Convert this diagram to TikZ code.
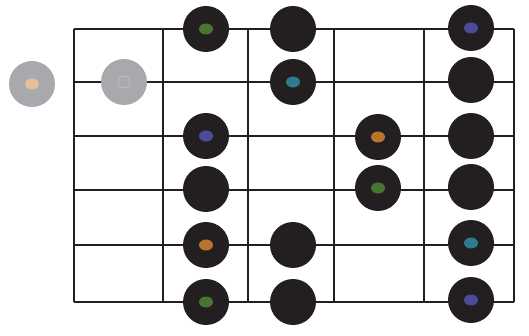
\documentclass[tikz,border=0pt]{standalone}
\usepackage{xcolor}
\usepackage{tikz}
\usetikzlibrary{shapes.geometric}

\definecolor{fretblack}{HTML}{231F20}
\definecolor{ghostgray}{HTML}{A7A9AC}
\definecolor{rootgreen}{HTML}{4A7433}
\definecolor{rootblue}{HTML}{4B4B96}
\definecolor{rootorange}{HTML}{B8762C}
\definecolor{rootteal}{HTML}{2F7A8C}
\definecolor{roottan}{HTML}{E4C197}

\begin{document}
\begin{tikzpicture}[x=1pt,y=-1pt]
  \tikzset{every node/.style={inner sep=0pt,outer sep=0pt}};
  \tikzset{fretline/.style={line width=2.2pt,draw=fretblack}};
  \tikzset{dot/.style={circle,fill=fretblack,minimum size=46pt}};
  \tikzset{ghost/.style={circle,fill=ghostgray,minimum size=46pt}};
  \tikzset{root/.style={ellipse,fill=#1,minimum width=14pt,minimum height=11pt}};
  \useasboundingbox (0,0) rectangle (529,336);
  % strings and frets
  \foreach \y in {29,82,136,190,245,302}
    \draw[fretline] (74,\y) -- (514,\y);
  \foreach \x in {74,163,248,334,424,514}
    \draw[fretline] (\x,29) -- (\x,302);
  % open and muted strings
  \node [ghost] (open) at (32,84) {};
  \node [root=roottan] (openc) at (open) {};
  \node [ghost] (mute) at (124,82) {};
  \node [circle,draw=white!45!ghostgray,line width=0.4pt,minimum size=12pt] (mutec) at (mute) {};
  % first fret column
  \node [dot] (fa1) at (206,29) {};
  \node [root=rootgreen] (fa1c) at (fa1) {};
  \node [dot] (fa3) at (206,136) {};
  \node [root=rootblue] (fa3c) at (fa3) {};
  \node [dot] (fa4) at (206,189) {};
  \node [dot] (fa5) at (206,245) {};
  \node [root=rootorange] (fa5c) at (fa5) {};
  \node [dot] (fa6) at (206,302) {};
  \node [root=rootgreen] (fa6c) at (fa6) {};
  % second fret column
  \node [dot] (fb1) at (293,29) {};
  \node [dot] (fb2) at (293,82) {};
  \node [root=rootteal] (fb2c) at (fb2) {};
  \node [dot] (fb5) at (293,245) {};
  \node [dot] (fb6) at (293,302) {};
  % third fret column
  \node [dot] (fc3) at (378,137) {};
  \node [root=rootorange] (fc3c) at (fc3) {};
  \node [dot] (fc4) at (378,188) {};
  \node [root=rootgreen] (fc4c) at (fc4) {};
  % fourth fret column
  \node [dot] (fd1) at (471,28) {};
  \node [root=rootblue] (fd1c) at (fd1) {};
  \node [dot] (fd2) at (471,80) {};
  \node [dot] (fd3) at (471,136) {};
  \node [dot] (fd4) at (471,187) {};
  \node [dot] (fd5) at (471,243) {};
  \node [root=rootteal] (fd5c) at (fd5) {};
  \node [dot] (fd6) at (471,300) {};
  \node [root=rootblue] (fd6c) at (fd6) {};
\end{tikzpicture}
\end{document}
